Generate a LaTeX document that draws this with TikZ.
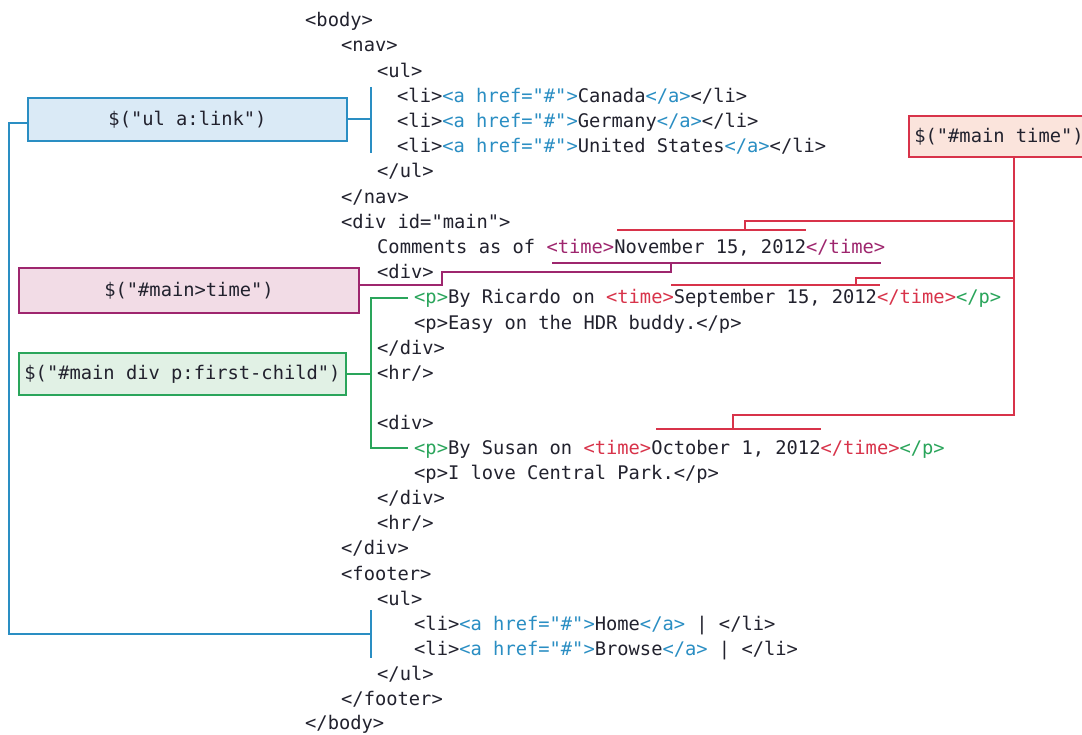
\documentclass[tikz,border=0pt]{standalone}
\usepackage{fontspec}
\setmonofont{DejaVu Sans Mono}
\definecolor{ink}{HTML}{22222E}
\definecolor{cblue}{HTML}{2A8EC3}
\definecolor{cpurple}{HTML}{9E266E}
\definecolor{cred}{HTML}{D8334A}
\definecolor{cgreen}{HTML}{2AA55B}
\definecolor{fblue}{HTML}{DAEAF6}
\definecolor{fpurple}{HTML}{F2DCE6}
\definecolor{fgreen}{HTML}{E1F1E5}
\definecolor{fred}{HTML}{FBE4DC}
\newcommand{\B}[1]{\textcolor{cblue}{#1}}
\newcommand{\Pu}[1]{\textcolor{cpurple}{#1}}
\newcommand{\R}[1]{\textcolor{cred}{#1}}
\newcommand{\G}[1]{\textcolor{cgreen}{#1}}
\tikzset{
  code/.style={anchor=base west, inner sep=0pt, text=ink,
    font=\ttfamily\fontsize{18.75}{22}\selectfont},
  selbox/.style={draw, line width=1.3pt, inner sep=0pt, text=ink,
    font=\ttfamily\fontsize{18.75}{22}\selectfont},
  lb/.style={draw=cblue, line width=1.4pt},
  lp/.style={draw=cpurple, line width=1.3pt},
  lr/.style={draw=cred, line width=1.3pt},
  lg/.style={draw=cgreen, line width=1.3pt},
}
\begin{document}
\begin{tikzpicture}[x=1pt,y=-1pt]
\clip (0,0) rectangle (1082,735);
\fill[white] (0,0) rectangle (1082,735);
% code lines (baseline = centre + 6.5)
\node[code] (c01) at (305,26.5) {<body>};
\node[code] (c02) at (341,51.5) {<nav>};
\node[code] (c03) at (377,77.5) {<ul>};
\node[code] (c04) at (397,102.5) {<li>\B{<a href="\#">}Canada\B{</a>}</li>};
\node[code] (c05) at (397,127.5) {<li>\B{<a href="\#">}Germany\B{</a>}</li>};
\node[code] (c06) at (397,152.5) {<li>\B{<a href="\#">}United States\B{</a>}</li>};
\node[code] (c07) at (377,177.5) {</ul>};
\node[code] (c08) at (341,203.5) {</nav>};
\node[code] (c09) at (341,228.5) {<div id="main">};
\node[code] (c10) at (377,253.5) {Comments as of \Pu{<time>}November 15, 2012\Pu{</time>}};
\node[code] (c11) at (377,278.5) {<div>};
\node[code] (c12) at (414,303.5) {\G{<p>}By Ricardo on \R{<time>}September 15, 2012\R{</time>}\G{</p>}};
\node[code] (c13) at (414,329.5) {<p>Easy on the HDR buddy.</p>};
\node[code] (c14) at (377,354.5) {</div>};
\node[code] (c15) at (377,379.5) {<hr/>};
\node[code] (c16) at (377,429.5) {<div>};
\node[code] (c17) at (414,454.5) {\G{<p>}By Susan on \R{<time>}October 1, 2012\R{</time>}\G{</p>}};
\node[code] (c18) at (414,479.5) {<p>I love Central Park.</p>};
\node[code] (c19) at (377,504.5) {</div>};
\node[code] (c20) at (377,529.5) {<hr/>};
\node[code] (c21) at (341,554.5) {</div>};
\node[code] (c22) at (341,580.5) {<footer>};
\node[code] (c23) at (377,605.5) {<ul>};
\node[code] (c24) at (414,630.5) {<li>\B{<a href="\#">}Home\B{</a>} | </li>};
\node[code] (c25) at (414,655.5) {<li>\B{<a href="\#">}Browse\B{</a>} | </li>};
\node[code] (c26) at (377,680.5) {</ul>};
\node[code] (c27) at (341,705.5) {</footer>};
\node[code] (c28) at (305,729.5) {</body>};
% selector boxes
\node[selbox, draw=cblue, fill=fblue, minimum width=319pt, minimum height=43pt] (bbox) at (187.5,119.5) {\$("ul a:link")};
\node[selbox, draw=cpurple, fill=fpurple, minimum width=340pt, minimum height=45pt] (pbox) at (189,290.5) {\$("\#main>time")};
\node[selbox, draw=cgreen, fill=fgreen, minimum width=327pt, minimum height=42pt] (gbox) at (182.5,374) {\$("\#main div p:first-child")};
\node[selbox, draw=cred, fill=fred, minimum width=180pt, minimum height=41pt] (rbox) at (999,136.5) {\$("\#main time")};
% blue connectors
\coordinate (bt1) at (371,87);
\coordinate (bt2) at (371,153);
\coordinate (bm) at (371,119);
\coordinate (bf1) at (371,610);
\coordinate (bf2) at (371,658);
\coordinate (bl1) at (9,123);
\coordinate (bl2) at (9,634);
\draw[lb] (bt1) -- (bt2);
\draw[lb] (bbox.east |- bm) -- (bm);
\draw[lb] (bbox.west |- bl1) -- (bl1) -- (bl2) -- (bl2 -| bf1);
\draw[lb] (bf1) -- (bf2);
% purple connector
\coordinate (pk1) at (442,285);
\coordinate (pk2) at (442,272);
\coordinate (pk3) at (671,272);
\coordinate (pk4) at (671,263);
\coordinate (pb1) at (552,263);
\coordinate (pb2) at (881,263);
\draw[lp] (pbox.east |- pk1) -- (pk1) -- (pk2) -- (pk3) -- (pk4);
\draw[lp] (pb1) -- (pb2);
% green connector
\coordinate (gt) at (371,298);
\coordinate (gb) at (371,448);
\draw[lg] (gbox.east) -- (gbox.east -| gt);
\draw[lg] (408,298) -- (gt) -- (gb) -- (408,448);
% red connectors
\coordinate (rv0) at (1014,157);
\coordinate (rv1) at (1014,221);
\coordinate (rv2) at (1014,278);
\coordinate (rv3) at (1014,415);
\draw[lr] (rbox.south -| rv0) -- (rv3) -- (733,415) -- (733,429);
\draw[lr] (656,429) -- (821,429);
\draw[lr] (rv1) -- (745,221) -- (745,230);
\draw[lr] (617,230) -- (806,230);
\draw[lr] (rv2) -- (856,278) -- (856,285);
\draw[lr] (671,285) -- (880,285);
\end{tikzpicture}
\end{document}
